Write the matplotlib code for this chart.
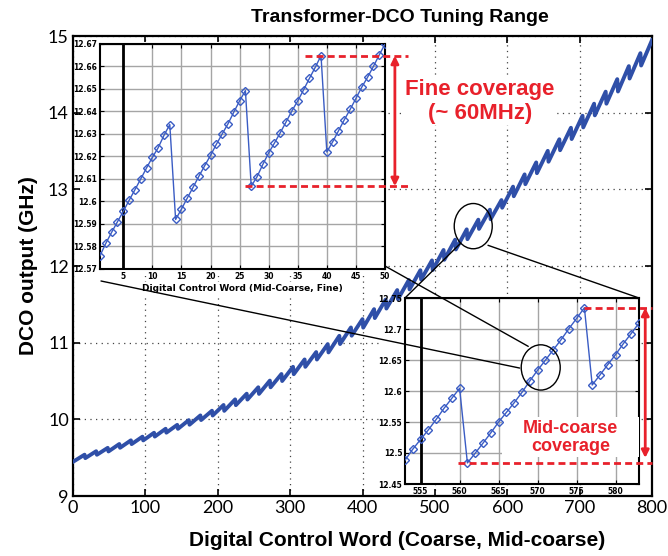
import matplotlib
matplotlib.use('Agg')
import matplotlib.pyplot as plt
from matplotlib.patches import Ellipse, Rectangle, ConnectionPatch
from matplotlib.ticker import FuncFormatter

# ---------------- data ----------------
# main curve: each mid-coarse sweep (tooth) starts at a trough and ends at a peak
tooth_start = [0] + list(range(17, 800, 16))
tooth_end = list(range(16, 801, 16))
trough = [9.446, 9.494, 9.538, 9.581, 9.629, 9.677, 9.725, 9.775, 9.826, 9.876,
          9.930, 9.991, 10.050, 10.111, 10.185, 10.258, 10.332, 10.418, 10.500, 10.589,
          10.685, 10.780, 10.873, 10.982, 11.091, 11.196, 11.321, 11.445, 11.567, 11.695,
          11.823, 11.948, 12.081, 12.216, 12.350, 12.484, 12.610, 12.760, 12.910, 13.067,
          13.211, 13.360, 13.510, 13.656, 13.808, 13.965, 14.117, 14.276, 14.445, 14.615]
peak = [9.539, 9.584, 9.628, 9.678, 9.726, 9.774, 9.825, 9.877, 9.928, 9.990,
        10.051, 10.112, 10.187, 10.260, 10.334, 10.418, 10.505, 10.591, 10.685, 10.781,
        10.877, 10.981, 11.089, 11.198, 11.307, 11.437, 11.562, 11.686, 11.817, 11.945,
        12.073, 12.209, 12.343, 12.478, 12.604, 12.734, 12.860, 13.035, 13.195, 13.351,
        13.502, 13.653, 13.803, 13.960, 14.117, 14.274, 14.437, 14.607, 14.776, 14.946]

# inset 1: fine code sweep
fine_code = list(range(1, 51))
fine_freq = [12.5759, 12.5814, 12.5863, 12.5910, 12.5956, 12.6005, 12.6052, 12.6100, 12.6149,
             12.6196, 12.6239, 12.6294, 12.6342,
             12.5920, 12.5966, 12.6015, 12.6063, 12.6112, 12.6159, 12.6205, 12.6254, 12.6300,
             12.6345, 12.6397, 12.6447, 12.6493,
             12.6068, 12.6110, 12.6165, 12.6216, 12.6260, 12.6306, 12.6354, 12.6403, 12.6447,
             12.6496, 12.6547, 12.6596, 12.6648,
             12.6220, 12.6265, 12.6314, 12.6363, 12.6409, 12.6458, 12.6508, 12.6552, 12.6600,
             12.6651, 12.6700]

# inset 2: mid-coarse code sweep
mid_code = list(range(553, 584))
mid_freq = [12.4884, 12.5062, 12.5219, 12.5374, 12.5542, 12.5720, 12.5882, 12.6044,
            12.4840, 12.4997, 12.5159, 12.5325, 12.5499, 12.5655, 12.5811, 12.5979, 12.6162,
            12.6335, 12.6497, 12.6663, 12.6825, 12.7003, 12.7170, 12.7343,
            12.6097, 12.6259, 12.6426, 12.6587, 12.6765, 12.6927, 12.7095]

main_xticks = list(range(0, 801, 100))
main_yticks = list(range(9, 16))
fine_xticks = list(range(5, 51, 5))
fine_yticks = [12.57, 12.58, 12.59, 12.60, 12.61, 12.62, 12.63, 12.64, 12.65, 12.66, 12.67]
mid_xticks = [555, 560, 565, 570, 575, 580]
mid_yticks = [12.45, 12.50, 12.55, 12.60, 12.65, 12.70, 12.75]

# ---------------- figure ----------------
W, H = 668, 556
fig = plt.figure(figsize=(W / 100, H / 100), dpi=100)

def fb(l, t, r, b):
    return [l / W, 1 - b / H, (r - l) / W, (b - t) / H]

RED = '#e8212b'
BLUE = '#2f4fa8'
IBLUE = '#3a5cc4'
BOLD = 'Liberation Sans'
fmt = FuncFormatter(lambda v, p: ('%.2f' % v).rstrip('0'))

# main axes
ax = fig.add_axes(fb(73, 36, 652, 496))
xs, ys = [], []
for s, e, t, p in zip(tooth_start, tooth_end, trough, peak):
    xs += [s, e]
    ys += [t, p]
ax.plot(xs, ys, color=BLUE, lw=2.8, solid_joinstyle='round', zorder=3)
ax.set_xlim(0, 800)
ax.set_ylim(9, 15)
ax.set_xticks(main_xticks)
ax.set_yticks(main_yticks)
ax.grid(True, ls=(0, (1, 3.5)), color='#444444', lw=0.9)
ax.tick_params(direction='in', length=5, width=1.2, top=True, right=True, labelsize=13, pad=3)
for lab in ax.get_xticklabels() + ax.get_yticklabels():
    lab.set_fontfamily('Lato')
for sp in ax.spines.values():
    sp.set_linewidth(1.6)
ax.set_xlabel('Digital Control Word (Coarse, Mid-coarse)', fontsize=15, fontweight='bold', family=BOLD)
ax.xaxis.set_label_coords(0.56, -0.075)
ax.set_ylabel('DCO output (GHz)', fontsize=15, fontweight='bold', family=BOLD)
ax.yaxis.set_label_coords(-0.06, 0.5)
fig.text(400 / W, 1 - 17 / H, 'Transformer-DCO Tuning Range', ha='center', va='center',
         fontsize=14, fontweight='bold', family=BOLD)

# white backgrounds behind inset labels
ax.add_patch(Rectangle((80 / W, 1 - 276 / H), 305 / W, 234 / H, transform=fig.transFigure,
                       fc='white', ec='none', zorder=1.8))
ax.add_patch(Rectangle((380 / W, 1 - 495 / H), 25 / W, 200 / H, transform=fig.transFigure,
                       fc='white', ec='none', zorder=1.8))

# circle on main curve
ax.add_patch(Ellipse((553, 12.52), 52.5, 0.59, fill=False, ec='black', lw=1, zorder=4))

# fine coverage text
ax.text(562, 14.15, 'Fine coverage\n(~ 60MHz)', ha='center', va='center', color=RED,
        fontsize=16, fontweight='bold', family=BOLD, linespacing=1.2,
        bbox=dict(fc='white', ec='none', pad=1), zorder=5)

# ---------------- inset 1 ----------------
ax1 = fig.add_axes(fb(100, 44, 385, 269))
ax1.plot(fine_code, fine_freq, color=IBLUE, lw=1, marker='D', ms=4, mfc='none', mec=IBLUE, mew=1, zorder=3)
ax1.set_xlim(1, 50)
ax1.set_ylim(12.57, 12.67)
ax1.set_xticks(fine_xticks)
ax1.set_yticks(fine_yticks)
ax1.yaxis.set_major_formatter(fmt)
ax1.grid(True, color='#a5a5a5', lw=1, ls='-')
ax1.axvline(5, color='black', lw=2, zorder=2.5)
ax1.tick_params(direction='in', length=3, labelsize=5.5, pad=2, right=True, top=True)
for lab in ax1.get_xticklabels() + ax1.get_yticklabels():
    lab.set_fontweight('bold')
for sp in ax1.spines.values():
    sp.set_linewidth(1.5)
ax1.set_xlabel('Digital Control Word (Mid-Coarse, Fine)', fontsize=6.5, fontweight='bold',
               labelpad=2, bbox=dict(fc='white', ec='none', pad=1))
# coverage marks
ax1.plot([36.2, 54], [fine_freq[38]] * 2, color=RED, lw=2, ls=(0, (2.5, 1.5)), clip_on=False, zorder=6)
ax1.plot([25.9, 54], [fine_freq[26]] * 2, color=RED, lw=2, ls=(0, (2.5, 1.5)), clip_on=False, zorder=6)
ax1.annotate('', xy=(51.7, fine_freq[38]), xytext=(51.7, fine_freq[26]),
             arrowprops=dict(arrowstyle='<|-|>', color=RED, lw=2, mutation_scale=11,
                             shrinkA=0, shrinkB=0), annotation_clip=False, zorder=6)

# ---------------- inset 2 ----------------
ax2 = fig.add_axes(fb(405, 298, 639, 484))
ax2.plot(mid_code, mid_freq, color=IBLUE, lw=1, marker='D', ms=4, mfc='none', mec=IBLUE, mew=1, zorder=3)
ax2.set_xlim(553, 583)
ax2.set_ylim(12.45, 12.75)
ax2.set_xticks(mid_xticks)
ax2.set_yticks(mid_yticks)
ax2.yaxis.set_major_formatter(fmt)
ax2.grid(True, color='#a5a5a5', lw=1, ls='-')
ax2.axvline(555, color='black', lw=2, zorder=2.5)
ax2.tick_params(direction='in', length=3, labelsize=5.5, pad=2, right=True, top=True)
for lab in ax2.get_xticklabels() + ax2.get_yticklabels():
    lab.set_fontweight('bold')
for sp in ax2.spines.values():
    sp.set_linewidth(1.5)
ax2.add_patch(Rectangle((565.4, 12.494), 583 - 565.4, 12.5585 - 12.494, fc='white', ec='none', zorder=2.6))
ax2.text(574.2, 12.525, 'Mid-coarse\ncoverage', ha='center', va='center', color=RED,
         fontsize=13, fontweight='bold', family=BOLD, linespacing=1.15, zorder=6)
ax2.plot([575.9, 584.7], [mid_freq[23]] * 2, color=RED, lw=2, ls=(0, (2.5, 1.5)), clip_on=False, zorder=6)
ax2.plot([559.8, 584.7], [mid_freq[8]] * 2, color=RED, lw=2, ls=(0, (2.5, 1.5)), clip_on=False, zorder=6)
ax2.annotate('', xy=(583.8, mid_freq[23]), xytext=(583.8, 12.492),
             arrowprops=dict(arrowstyle='<|-|>', color=RED, lw=2, mutation_scale=11,
                             shrinkA=0, shrinkB=0), annotation_clip=False, zorder=6)
ax2.add_patch(Ellipse((570.4, 12.638), 5.0, 0.073, fill=False, ec='black', lw=1, zorder=5))

# ---------------- connector lines ----------------
cons = [
    ConnectionPatch(xyA=(101, H - 281), coordsA='figure pixels', xyB=(567.7, 12.637), coordsB=ax2.transData),
    ConnectionPatch(xyA=(385, H - 266), coordsA='figure pixels', xyB=(568.8, 12.672), coordsB=ax2.transData),
    ConnectionPatch(xyA=(535.9, 12.30), coordsA=ax.transData, xyB=(0, 1), coordsB=ax2.transAxes),
    ConnectionPatch(xyA=(573.4, 12.27), coordsA=ax.transData, xyB=(1, 1), coordsB=ax2.transAxes),
]
for c in cons:
    c.set_color('black')
    c.set_linewidth(1)
    c.set_zorder(10)
    fig.add_artist(c)

fig.savefig('out.png', dpi=100)
